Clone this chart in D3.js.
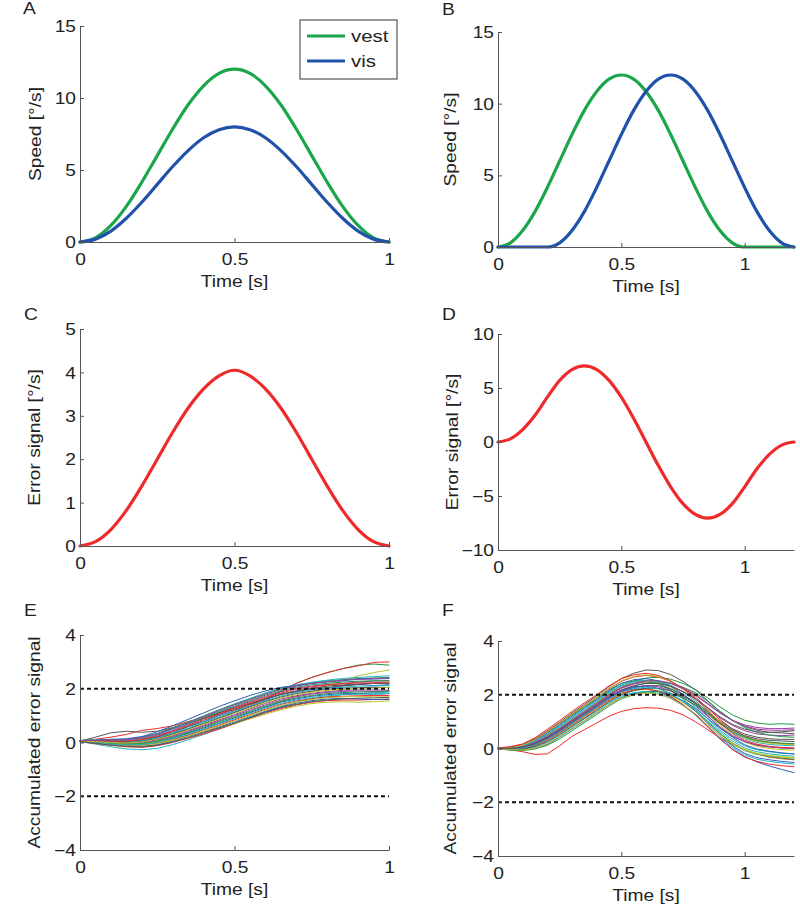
<!DOCTYPE html>
<html><head><meta charset="utf-8">
<script src="https://cdn.jsdelivr.net/npm/d3@7"></script>
<style>
body{margin:0;background:#fff}
svg{display:block}
text{font-family:"Liberation Sans",Arial,Helvetica,sans-serif;fill:#222}
</style>
</head><body>
<svg id="c" width="800" height="918"></svg>
<script>
// ---------------- DATA ----------------
const time1 = [0,0.05,0.1,0.15,0.2,0.25,0.3,0.35,0.4,0.45,0.5,0.55,0.6,0.65,0.7,0.75,0.8,0.85,0.9,0.95,1];
const time12 = [0,0.05,0.1,0.15,0.2,0.25,0.3,0.35,0.4,0.45,0.5,0.55,0.6,0.65,0.7,0.75,0.8,0.85,0.9,0.95,1,1.05,1.1,1.15,1.2];

const vestA = [0,0.29,1.15,2.47,4.15,6,7.85,9.53,10.85,11.71,12,11.71,10.85,9.53,7.85,6,4.15,2.47,1.15,0.29,0];
const visA  = [0,0.2,0.76,1.65,2.76,4,5.24,6.35,7.24,7.8,8,7.8,7.24,6.35,5.24,4,2.76,1.65,0.76,0.2,0];
const vestB = [0,0.29,1.15,2.47,4.15,6,7.85,9.53,10.85,11.71,12,11.71,10.85,9.53,7.85,6,4.15,2.47,1.15,0.29,0,0,0,0,0];
const visB  = [0,0,0,0,0,0.29,1.15,2.47,4.15,6,7.85,9.53,10.85,11.71,12,11.71,10.85,9.53,7.85,6,4.15,2.47,1.15,0.29,0];
const errC  = [0,0.1,0.38,0.82,1.38,2,2.62,3.18,3.62,3.92,4.05,3.92,3.62,3.18,2.62,2,1.38,0.82,0.38,0.1,0];
const errD  = [0,0.29,1.15,2.47,4.15,5.71,6.71,7.05,6.71,5.71,4.15,2.18,0,-2.18,-4.15,-5.71,-6.71,-7.05,-6.71,-5.71,-4.15,-2.47,-1.15,-0.29,0];

const thresholds = [2,-2];
const legendLabels = ['vest','vis'];

const xTicks1 = [0,0.5,1];
const yTicksA = [0,5,10,15];
const yTicksC = [0,1,2,3,4,5];
const yTicksD = [-10,-5,0,5,10];
const yTicksE = [-4,-2,0,2,4];

const accE = [
 [0.06,0.08,0.03,0.04,0.06,0.2,0.35,0.59,0.77,1.0,1.18,1.42,1.58,1.8,1.88,2.02,2.04,2.12,2.16,2.12,2.15],
 [0.05,0.06,0.02,0.0,0.05,0.14,0.3,0.5,0.7,0.9,1.12,1.35,1.62,1.92,2.2,2.42,2.6,2.75,2.88,2.92,2.88],
 [0.08,0.12,0.2,0.3,0.45,0.52,0.62,0.78,0.92,1.08,1.22,1.4,1.62,1.9,2.2,2.42,2.6,2.75,2.85,2.98,3.0],
 [0.03,-0.06,-0.16,-0.24,-0.27,-0.22,-0.08,0.1,0.3,0.5,0.7,0.92,1.15,1.35,1.5,1.62,1.7,1.78,1.82,1.85,1.88],
 [0.06,0.08,0.08,0.07,0.14,0.27,0.45,0.67,0.9,1.1,1.32,1.52,1.72,1.88,2.02,2.1,2.16,2.2,2.25,2.28,2.3],
 [0.04,0.0,-0.05,-0.1,-0.08,0.0,0.12,0.3,0.5,0.7,0.88,1.1,1.3,1.52,1.72,1.9,2.1,2.3,2.48,2.6,2.7],
 [0.05,0.2,0.36,0.42,0.38,0.42,0.55,0.72,0.9,1.1,1.3,1.45,1.62,1.78,1.9,1.98,2.04,2.1,2.16,2.2,2.22],
 [0.04,0.0,-0.04,-0.07,-0.06,0.02,0.16,0.34,0.54,0.72,0.92,1.12,1.32,1.5,1.62,1.72,1.78,1.82,1.82,1.8,1.82],
 [0.07,0.1,0.1,0.12,0.2,0.34,0.55,0.76,0.99,1.22,1.44,1.64,1.84,2.0,2.12,2.22,2.3,2.34,2.38,2.4,2.42],
 [0.03,-0.04,-0.1,-0.16,-0.18,-0.12,0.0,0.16,0.32,0.5,0.7,0.9,1.1,1.26,1.4,1.5,1.56,1.58,1.58,1.6,1.62],
 [0.05,0.05,0.02,0.01,0.06,0.17,0.35,0.53,0.76,0.95,1.16,1.36,1.55,1.73,1.86,1.95,2.02,2.06,2.1,2.1,2.12],
 [0.05,0.02,-0.03,-0.05,-0.02,0.07,0.22,0.4,0.61,0.8,1.0,1.2,1.4,1.57,1.7,1.8,1.86,1.9,1.92,1.9,1.92],
 [0.04,0.02,-0.02,-0.06,-0.05,0.02,0.12,0.25,0.4,0.55,0.7,0.88,1.05,1.22,1.35,1.45,1.5,1.52,1.5,1.52,1.55],
 [0.05,0.03,0.02,-0.01,0.03,0.14,0.31,0.5,0.71,0.91,1.12,1.32,1.52,1.69,1.82,1.91,1.98,2.02,2.04,2.05,2.05],
 [0.03,-0.02,-0.08,-0.12,-0.14,-0.08,0.05,0.22,0.4,0.58,0.76,0.96,1.16,1.32,1.46,1.56,1.62,1.64,1.62,1.6,1.6],
 [0.06,0.08,0.08,0.09,0.16,0.3,0.5,0.7,0.93,1.14,1.36,1.56,1.76,1.92,2.06,2.15,2.2,2.25,2.28,2.3,2.3],
 [0.04,0.0,-0.06,-0.1,-0.1,-0.03,0.1,0.28,0.47,0.65,0.84,1.04,1.24,1.42,1.55,1.64,1.7,1.72,1.74,1.75,1.75],
 [0.06,0.1,0.1,0.08,0.15,0.3,0.5,0.72,0.96,1.2,1.42,1.62,1.84,2.02,2.15,2.24,2.32,2.38,2.42,2.45,2.48],
 [0.05,0.02,0.0,-0.02,0.02,0.1,0.25,0.44,0.64,0.84,1.04,1.25,1.45,1.62,1.74,1.83,1.9,1.94,1.96,1.95,1.95],
 [0.04,0.0,-0.06,-0.12,-0.12,-0.04,0.08,0.24,0.42,0.62,0.8,1.0,1.2,1.38,1.5,1.6,1.66,1.7,1.72,1.7,1.7],
 [0.06,0.05,0.04,0.04,0.1,0.22,0.4,0.6,0.82,1.04,1.24,1.44,1.64,1.8,1.92,2.02,2.1,2.14,2.18,2.2,2.2],
 [0.06,0.08,0.12,0.14,0.22,0.4,0.62,0.86,1.1,1.34,1.55,1.75,1.92,2.05,2.12,2.2,2.25,2.3,2.35,2.36,2.38],
 [0.04,0.01,-0.04,-0.06,-0.04,0.05,0.19,0.37,0.57,0.77,0.96,1.16,1.36,1.53,1.66,1.75,1.82,1.86,1.88,1.88,1.9],
 [0.06,0.06,0.05,0.05,0.12,0.24,0.42,0.64,0.86,1.06,1.28,1.48,1.68,1.84,1.98,2.07,2.14,2.18,2.22,2.22,2.25],
 [0.04,0.0,-0.06,-0.09,-0.08,0.0,0.14,0.3,0.5,0.7,0.88,1.08,1.28,1.45,1.58,1.67,1.74,1.78,1.8,1.8,1.82],
 [0.06,0.08,0.1,0.1,0.18,0.32,0.52,0.74,0.97,1.18,1.4,1.6,1.8,1.97,2.1,2.2,2.26,2.32,2.36,2.38,2.4],
 [0.05,0.03,0.0,-0.02,0.02,0.12,0.28,0.47,0.68,0.88,1.08,1.28,1.48,1.65,1.78,1.87,1.94,1.98,2.0,2.02,2.05],
 [0.04,-0.03,-0.1,-0.14,-0.16,-0.1,0.02,0.18,0.36,0.54,0.72,0.92,1.12,1.3,1.42,1.52,1.58,1.62,1.65,1.66,1.68]
];

const accF = [
 [0.0,-0.01,0.03,0.17,0.4,0.67,0.98,1.28,1.57,1.88,2.12,2.22,2.22,2.12,1.92,1.62,1.25,0.8,0.35,-0.02,-0.3,-0.5,-0.65,-0.78,-0.9],
 [0.0,0.02,0.08,0.24,0.5,0.78,1.1,1.42,1.72,2.05,2.32,2.5,2.62,2.65,2.58,2.42,2.2,1.88,1.55,1.25,1.05,0.95,0.9,0.92,0.9],
 [0.0,-0.05,-0.12,-0.22,-0.2,0.1,0.45,0.7,0.95,1.2,1.38,1.48,1.52,1.5,1.42,1.25,1.0,0.7,0.4,0.15,-0.05,-0.2,-0.32,-0.38,-0.42],
 [0.01,0.04,0.1,0.28,0.55,0.84,1.17,1.48,1.78,2.1,2.36,2.48,2.5,2.42,2.22,1.92,1.55,1.1,0.68,0.35,0.1,-0.05,-0.12,-0.18,-0.2],
 [0.0,0.02,0.06,0.22,0.46,0.74,1.06,1.36,1.67,1.99,2.26,2.42,2.52,2.52,2.42,2.22,1.98,1.65,1.32,1.05,0.88,0.78,0.74,0.74,0.76],
 [0.0,-0.02,-0.01,0.1,0.28,0.55,0.86,1.15,1.45,1.76,2.02,2.15,2.2,2.15,1.98,1.72,1.4,0.98,0.56,0.22,-0.04,-0.18,-0.26,-0.3,-0.34],
 [0.01,0.05,0.14,0.36,0.66,0.98,1.32,1.64,1.96,2.3,2.6,2.8,2.92,2.9,2.75,2.5,2.18,1.78,1.38,1.05,0.82,0.68,0.6,0.58,0.55],
 [-0.01,-0.05,-0.06,0.02,0.16,0.42,0.73,1.02,1.32,1.64,1.9,2.04,2.12,2.12,2.0,1.78,1.5,1.12,0.75,0.45,0.25,0.12,0.06,0.02,0.0],
 [0.01,0.04,0.12,0.32,0.62,0.92,1.25,1.56,1.86,2.18,2.42,2.52,2.52,2.4,2.18,1.85,1.45,1.0,0.55,0.18,-0.08,-0.22,-0.3,-0.36,-0.4],
 [0.01,0.05,0.13,0.34,0.64,0.95,1.28,1.6,1.9,2.22,2.5,2.66,2.72,2.66,2.5,2.25,1.92,1.5,1.08,0.72,0.45,0.3,0.22,0.18,0.16],
 [-0.01,-0.03,-0.03,0.06,0.22,0.48,0.8,1.1,1.38,1.7,1.95,2.08,2.12,2.06,1.88,1.6,1.26,0.82,0.4,0.04,-0.24,-0.4,-0.48,-0.54,-0.58],
 [0.0,0.01,0.05,0.2,0.43,0.71,1.04,1.34,1.64,1.96,2.24,2.4,2.48,2.46,2.34,2.12,1.85,1.5,1.14,0.86,0.66,0.54,0.5,0.48,0.5],
 [0.0,0.02,0.08,0.24,0.5,0.78,1.1,1.41,1.71,2.03,2.3,2.44,2.5,2.45,2.28,2.02,1.7,1.28,0.86,0.5,0.24,0.08,0.0,-0.04,-0.06],
 [0.0,-0.01,0.02,0.14,0.34,0.61,0.93,1.23,1.53,1.84,2.1,2.26,2.34,2.34,2.22,2.0,1.72,1.38,1.02,0.74,0.54,0.42,0.36,0.34,0.34],
 [0.01,0.04,0.11,0.3,0.58,0.88,1.21,1.52,1.82,2.14,2.42,2.56,2.6,2.52,2.32,2.02,1.66,1.22,0.78,0.42,0.14,-0.02,-0.1,-0.16,-0.2],
 [0.0,0.0,0.04,0.17,0.38,0.65,0.96,1.26,1.56,1.88,2.14,2.32,2.44,2.48,2.42,2.28,2.08,1.75,1.38,1.05,0.78,0.6,0.5,0.44,0.42],
 [0.0,-0.02,0.0,0.12,0.31,0.58,0.9,1.19,1.49,1.8,2.06,2.18,2.22,2.14,1.94,1.64,1.28,0.82,0.36,-0.04,-0.32,-0.48,-0.58,-0.64,-0.68],
 [0.01,0.02,0.09,0.26,0.52,0.81,1.14,1.44,1.75,2.07,2.34,2.48,2.54,2.5,2.35,2.1,1.78,1.35,0.93,0.6,0.36,0.22,0.15,0.12,0.1],
 [0.0,0.0,0.03,0.16,0.37,0.65,0.97,1.27,1.56,1.88,2.14,2.28,2.34,2.3,2.15,1.9,1.6,1.2,0.8,0.48,0.26,0.12,0.06,0.02,0.0],
 [0.01,0.03,0.12,0.32,0.62,0.94,1.28,1.6,1.9,2.24,2.52,2.68,2.74,2.68,2.5,2.22,1.88,1.44,1.0,0.65,0.4,0.26,0.2,0.16,0.14],
 [-0.01,-0.02,-0.02,0.08,0.26,0.52,0.83,1.12,1.42,1.74,2.0,2.16,2.24,2.24,2.14,1.95,1.68,1.32,0.96,0.68,0.48,0.36,0.3,0.28,0.26],
 [0.0,0.0,0.04,0.18,0.4,0.68,1.0,1.3,1.6,1.92,2.17,2.3,2.32,2.24,2.04,1.75,1.4,0.94,0.48,0.1,-0.18,-0.34,-0.42,-0.48,-0.52],
 [-0.02,-0.06,-0.08,-0.02,0.12,0.36,0.66,0.96,1.26,1.58,1.85,2.0,2.1,2.12,2.06,1.88,1.62,1.28,0.92,0.62,0.42,0.3,0.24,0.2,0.18],
 [0.02,0.07,0.17,0.4,0.72,1.04,1.38,1.7,2.0,2.33,2.6,2.74,2.8,2.72,2.52,2.22,1.86,1.4,0.94,0.56,0.3,0.16,0.08,0.04,0.02],
 [0.0,-0.01,0.02,0.14,0.34,0.61,0.93,1.23,1.53,1.85,2.1,2.24,2.28,2.22,2.04,1.76,1.44,1.02,0.62,0.28,0.02,-0.12,-0.2,-0.25,-0.28],
 [0.0,0.01,0.06,0.22,0.46,0.74,1.06,1.37,1.68,2.0,2.27,2.42,2.52,2.52,2.44,2.26,2.02,1.68,1.34,1.04,0.84,0.72,0.68,0.68,0.7],
 [-0.01,-0.04,-0.06,0.02,0.18,0.44,0.75,1.04,1.33,1.64,1.88,2.0,2.06,2.02,1.86,1.6,1.3,0.88,0.48,0.16,-0.06,-0.2,-0.27,-0.32,-0.36],
 [0.0,0.0,0.05,0.18,0.4,0.68,1.0,1.3,1.6,1.92,2.18,2.34,2.42,2.42,2.32,2.12,1.85,1.52,1.18,0.9,0.72,0.62,0.6,0.62,0.66]
];

// ---------------- STYLE ----------------
const GREEN = '#1ca64b', BLUE = '#2152aa', RED = '#ee2a2a';
const traceColors = ['#2b5fb8','#1f9a46','#ee2c2c','#25b3c4','#9a3fa3','#b7c12c','#555555'];
const FS = 16, SX = 1.2, AXC = '#555';

const svg = d3.select('#c');

function stext(g, x, y, str, size, anchor, rotate) {
  return g.append('text')
    .attr('transform', `translate(${x},${y})` + (rotate ? ' rotate(-90)' : '') + ` scale(${SX},1)`)
    .attr('text-anchor', anchor || 'start')
    .style('font-size', size + 'px')
    .text(str);
}

const panels = [
  {L:'A', xr:[80,389], yr:[242,26], xd:[0,1], yd:[0,15], yt:yTicksA, yl:'Speed [°/s]', lp:[23,14], ylx:35},
  {L:'B', xr:[498,794], yr:[247,32], xd:[0,1.2], yd:[0,15], yt:yTicksA, yl:'Speed [°/s]', lp:[442,15], ylx:450},
  {L:'C', xr:[80,389], yr:[546,329], xd:[0,1], yd:[0,5], yt:yTicksC, yl:'Error signal [°/s]', lp:[24,320], ylx:34},
  {L:'D', xr:[498,794], yr:[550,334], xd:[0,1.2], yd:[-10,10], yt:yTicksD, yl:'Error signal [°/s]', lp:[442,320], ylx:452},
  {L:'E', xr:[80,389], yr:[850,635], xd:[0,1], yd:[-4,4], yt:yTicksE, yl:'Accumulated error signal', lp:[24,616], ylx:34},
  {L:'F', xr:[498,794], yr:[856,641], xd:[0,1.2], yd:[-4,4], yt:yTicksE, yl:'Accumulated error signal', lp:[442,616], ylx:450}
];

const P = {};
panels.forEach(p => {
  const x = d3.scaleLinear().domain(p.xd).range(p.xr);
  const y = d3.scaleLinear().domain(p.yd).range(p.yr);
  const g = svg.append('g');
  P[p.L] = {x, y, g, gData: g.append('g')};
  const fmt = d3.format('');
  const gx = g.append('g').attr('transform', `translate(0,${p.yr[0]})`).attr('color', AXC)
    .call(d3.axisBottom(x).tickValues(xTicks1).tickSizeInner(-4).tickSizeOuter(0).tickFormat(fmt));
  const gy = g.append('g').attr('transform', `translate(${p.xr[0]},0)`).attr('color', AXC)
    .call(d3.axisLeft(y).tickValues(p.yt).tickSizeInner(-4).tickSizeOuter(0).tickFormat(fmt));
  [gx, gy].forEach(a => {
    a.select('.domain').attr('stroke-width', 1);
    a.selectAll('.tick line').attr('stroke-width', 1);
  });
  gx.selectAll('.tick text').attr('y', null).attr('dy', null)
    .attr('transform', `translate(0,${23}) scale(${SX},1)`).style('font-size', FS + 'px')
    .style('fill', '#222').attr('font-family', null);
  gy.selectAll('.tick text').attr('x', null).attr('dy', '0.35em')
    .attr('transform', `translate(-4,0) scale(${SX},1)`).style('font-size', FS + 'px')
    .style('fill', '#222').attr('font-family', null);
  stext(g, (p.xr[0] + p.xr[1]) / 2, p.yr[0] + 45, 'Time [s]', FS, 'middle');
  stext(g, p.ylx, (p.yr[0] + p.yr[1]) / 2, p.yl, FS, 'middle', true).attr('dy', '0.35em');
  stext(g, p.lp[0], p.lp[1], p.L, 16, 'start');
});

function lineGen(p, times, curve) {
  return d3.line().x((d, i) => p.x(times[i])).y(d => p.y(d)).curve(curve);
}
function drawCurve(L, times, vals, color, w, curve) {
  const p = P[L];
  p.gData.append('path').datum(vals).attr('d', lineGen(p, times, curve || d3.curveMonotoneX))
    .attr('fill', 'none').attr('stroke', color).attr('stroke-width', w)
    .attr('stroke-linejoin', 'round').attr('stroke-linecap', 'round');
}

drawCurve('A', time1, vestA, GREEN, 3.2);
drawCurve('A', time1, visA, BLUE, 3.2);
drawCurve('B', time12, vestB, GREEN, 3.2);
drawCurve('B', time12, visB, BLUE, 3.2);
drawCurve('C', time1, errC, RED, 3.2);
drawCurve('D', time12, errD, RED, 3.2);
accE.forEach((tr, i) => drawCurve('E', time1, tr, traceColors[i % 7], 1, d3.curveLinear));
accF.forEach((tr, i) => drawCurve('F', time12, tr, traceColors[i % 7], 1, d3.curveLinear));
['E', 'F'].forEach(L => {
  const p = P[L];
  p.gData.selectAll('line.thr').data(thresholds).enter().append('line')
    .attr('x1', p.x.range()[0]).attr('x2', p.x.range()[1])
    .attr('y1', d => p.y(d)).attr('y2', d => p.y(d))
    .attr('stroke', '#111').attr('stroke-width', 2).attr('stroke-dasharray', '4,3');
});

const lg = svg.append('g');
lg.append('rect').attr('x', 300).attr('y', 20).attr('width', 97).attr('height', 59)
  .attr('fill', '#fff').attr('stroke', '#333').attr('stroke-width', 1);
const lgColors = [GREEN, BLUE];
legendLabels.forEach((lab, i) => {
  const yy = 36 + i * 25;
  lg.append('line').attr('x1', 307).attr('x2', 345).attr('y1', yy).attr('y2', yy)
    .attr('stroke', lgColors[i]).attr('stroke-width', 3.2);
  stext(lg, 351, yy, lab, 17, 'start').attr('dy', '0.35em');
});
</script>
</body></html>
